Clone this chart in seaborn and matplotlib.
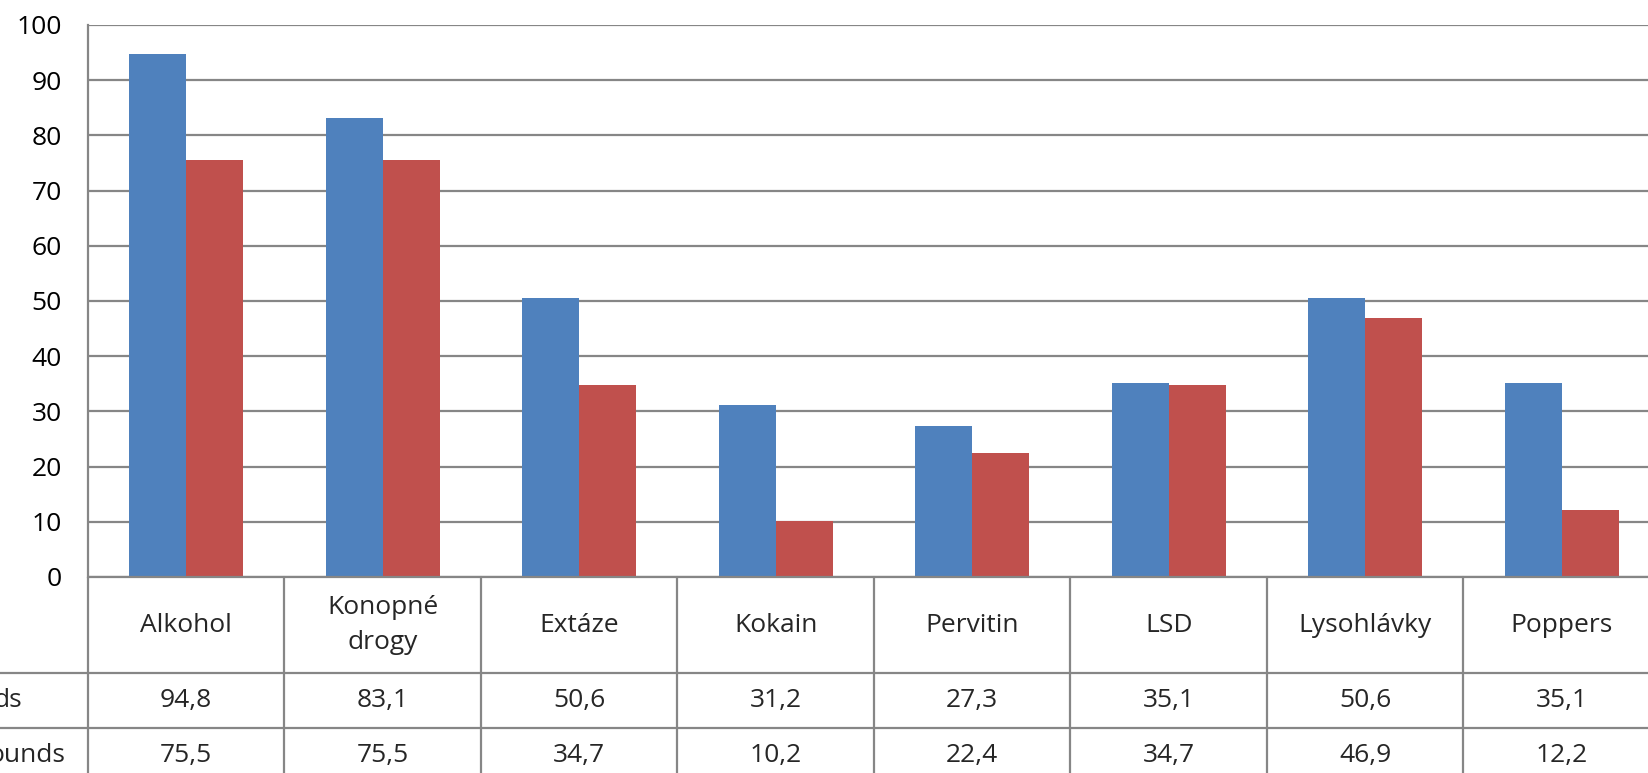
"""
plot.py — grouped bar chart with an Excel-style data table underneath.
"""

import pandas as pd
import matplotlib
matplotlib.use("Agg")
import matplotlib.pyplot as plt
import matplotlib.transforms as mtransforms
import seaborn as sns

# data
categories = ["Alkohol", "Konopné\ndrogy", "Extáze", "Kokain", "Pervitin",
              "LSD", "Lysohlávky", "Poppers"]
series_names = ["ds", "ounds"]          # row labels, cut off at the left edge
series_a = [94.8, 83.1, 50.6, 31.2, 27.3, 35.1, 50.6, 35.1]
series_b = [75.5, 75.5, 34.7, 10.2, 22.4, 34.7, 46.9, 12.2]
yticks = [0, 10, 20, 30, 40, 50, 60, 70, 80, 90, 100]

BLUE = "#4F81BD"
RED = "#C0504D"
GRID = "#868686"
FS = 19

sns.set_theme(style="white")
plt.rcParams["font.family"] = ["Open Sans", "DejaVu Sans"]

df = pd.DataFrame({
    "kategorie": categories * 2,
    "hodnota": series_a + series_b,
    "serie": [series_names[0]] * len(categories) + [series_names[1]] * len(categories),
})

W, H = 1649, 773
fig = plt.figure(figsize=(W / 100, H / 100), dpi=100)
# plot area in pixels: left 88, top 25, zero line 577, right beyond the crop
left, top, zero, right = 88, 25, 577, 1660
ax = fig.add_axes([left / W, (H - zero) / H, (right - left) / W, (zero - top) / H])

sns.barplot(data=df, x="kategorie", y="hodnota", hue="serie",
            palette=[BLUE, RED], width=0.58, saturation=1, linewidth=0,
            legend=False, ax=ax)

ax.set_ylim(0, 100)
ax.set_xlim(-0.5, len(categories) - 0.5)
ax.set_yticks(yticks)
ax.set_yticklabels([str(t) for t in yticks])
ax.set_xticks([])
ax.set_xlabel("")
ax.set_ylabel("")
ax.tick_params(axis="y", length=0, pad=19, labelsize=FS, colors="black")
ax.yaxis.grid(True, color=GRID, linewidth=1.6)
ax.set_axisbelow(True)
for side in ["top", "right", "bottom"]:
    ax.spines[side].set_visible(False)
ax.spines["left"].set_color(GRID)
ax.spines["left"].set_linewidth(1.6)

# data table below the plot, in data-x / axes-y coordinates
ax_h = zero - top
trans = mtransforms.blended_transform_factory(ax.transData, ax.transAxes)
fig_trans = mtransforms.blended_transform_factory(fig.transFigure, ax.transAxes)
row_edges = [0, -96 / ax_h, -151 / ax_h, -206 / ax_h]
n = len(categories)

line_kw = dict(color=GRID, linewidth=1.6, clip_on=False)
ax.plot([-0.5, n - 0.5], [0, 0], transform=trans, **line_kw)
for xb in [i - 0.5 for i in range(n + 1)]:
    ax.plot([xb, xb], [0, row_edges[-1]], transform=trans, **line_kw)
# row lines run to the left edge of the figure
for yb in row_edges[1:3]:
    ax.plot([0, 1], [yb, yb], transform=fig_trans, **line_kw)

head_y = (row_edges[0] + row_edges[1]) / 2
for i, cat in enumerate(categories):
    ax.text(i, head_y, cat, transform=trans, ha="center", va="center",
            fontsize=FS, linespacing=1.5)

for r, vals in enumerate([series_a, series_b]):
    yc = (row_edges[r + 1] + row_edges[r + 2]) / 2
    for i, v in enumerate(vals):
        ax.text(i, yc, f"{v:.1f}".replace(".", ","), transform=trans,
                ha="center", va="center", fontsize=FS)

# row labels, clipped by the left edge of the picture (as in the source)
label_right = [22, 65]
for r, name in enumerate(series_names):
    yc = (row_edges[r + 1] + row_edges[r + 2]) / 2
    ax.text(label_right[r] / W, yc, name, transform=fig_trans,
            ha="right", va="center", fontsize=FS)

fig.savefig("out.png", dpi=100)
